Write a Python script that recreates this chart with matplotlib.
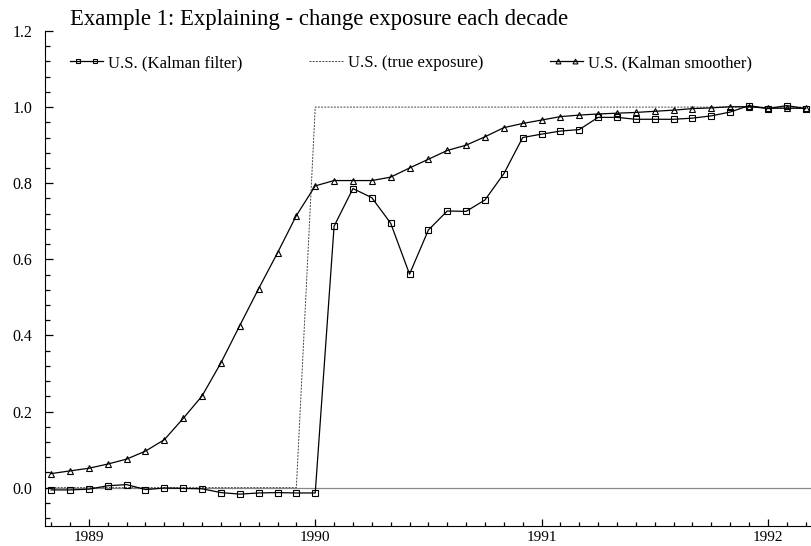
import matplotlib
matplotlib.use("Agg")
import matplotlib.pyplot as plt
import numpy as np
from matplotlib.ticker import MultipleLocator
from matplotlib.lines import Line2D
from matplotlib.legend_handler import HandlerTuple, HandlerLine2D

plt.rcParams['font.family'] = ['Liberation Serif', 'DejaVu Serif']

# monthly observations, Nov 1988 .. Mar 1992
start_year = 1988 + 10 / 12
n_months = 41

kalman_filter = [-0.006, -0.006, -0.004, 0.005, 0.008, -0.005, -0.001, -0.002, -0.003, -0.013,
                 -0.017, -0.014, -0.013, -0.014, -0.014, 0.687, 0.786, 0.762, 0.695, 0.561,
                 0.677, 0.727, 0.726, 0.756, 0.825, 0.920, 0.929, 0.937, 0.941, 0.973,
                 0.973, 0.968, 0.968, 0.968, 0.971, 0.977, 0.987, 1.004, 0.996, 1.004,
                 0.996]
true_exposure = [0.0] * 14 + [1.0] * 27
kalman_smoother = [0.037, 0.044, 0.051, 0.062, 0.075, 0.096, 0.126, 0.182, 0.241, 0.328,
                   0.426, 0.523, 0.617, 0.715, 0.793, 0.807, 0.807, 0.807, 0.816, 0.840,
                   0.863, 0.886, 0.900, 0.922, 0.946, 0.957, 0.966, 0.975, 0.979, 0.982,
                   0.984, 0.986, 0.989, 0.992, 0.996, 0.998, 1.001, 1.001, 0.997, 0.997,
                   0.997]
labels = ["U.S. (Kalman filter)", "U.S. (true exposure)", "U.S. (Kalman smoother)"]
title = "Example 1: Explaining - change exposure each decade"

t = start_year + np.arange(n_months) / 12

fig = plt.figure(figsize=(8.12, 5.46), dpi=100)
ax = fig.add_axes([45 / 812, 1 - 525.7 / 546, 1 - 45 / 812, (525.7 - 31) / 546])

ax.axhline(0, color='#888888', lw=0.9, zorder=1)
ax.plot(t, kalman_filter, color='black', lw=0.9, marker='s', ms=4.5,
        mfc='none', mew=0.8, zorder=3)
l2, = ax.plot(t, true_exposure, color='#444444', lw=0.7, ls=(0, (2, 1.3)),
              label=labels[1], zorder=2)
ax.plot(t, kalman_smoother, color='black', lw=0.9, marker='^', ms=4.5,
        mfc='none', mew=0.8, zorder=3)

ax.set_xlim(1988.806, 1992.195)
ax.set_ylim(-0.1, 1.2)
ax.spines['top'].set_visible(False)
ax.spines['right'].set_visible(False)
ax.yaxis.set_major_locator(MultipleLocator(0.2))
ax.yaxis.set_minor_locator(MultipleLocator(0.04))
ax.xaxis.set_major_locator(MultipleLocator(1))
ax.xaxis.set_minor_locator(MultipleLocator(1 / 12))
ax.yaxis.set_major_formatter(lambda v, p: f"{v:.1f}")
ax.xaxis.set_major_formatter(lambda v, p: f"{int(round(v))}")
ax.tick_params(axis='both', which='both', direction='in', width=0.9)
ax.tick_params(axis='y', which='major', length=6, pad=9, labelsize=11.5)
ax.tick_params(axis='y', which='minor', length=3.6)
ax.tick_params(axis='x', which='major', length=5, pad=3.5, labelsize=11)
ax.tick_params(axis='x', which='minor', length=2.6)

fig.text(70 / 812, 1 - 20 / 546, title, fontsize=16.4, va='center', ha='left')

# legend handles: full-width line plus two inset markers
line1 = Line2D([], [], color='black', lw=0.9)
marks1 = Line2D([], [], ls='none', color='black', marker='s', ms=3.5, mfc='none', mew=0.8)
line3 = Line2D([], [], color='black', lw=0.9)
marks3 = Line2D([], [], ls='none', color='black', marker='^', ms=3.5, mfc='none', mew=0.8)
hmap = {tuple: HandlerTuple(ndivide=1, pad=0),
        marks1: HandlerLine2D(numpoints=2, marker_pad=0.5),
        marks3: HandlerLine2D(numpoints=2, marker_pad=0.5)}

ax.legend(handles=[(line1, marks1), l2, (line3, marks3)], labels=labels,
          handler_map=hmap, ncol=3, frameon=False, fontsize=12,
          loc='center left', bbox_to_anchor=(70 / 812, 1 - 63 / 546),
          bbox_transform=fig.transFigure, numpoints=1, handlelength=2.0,
          handletextpad=0.3, columnspacing=4.0, borderaxespad=0, borderpad=0)

fig.savefig("out.png", dpi=100)
